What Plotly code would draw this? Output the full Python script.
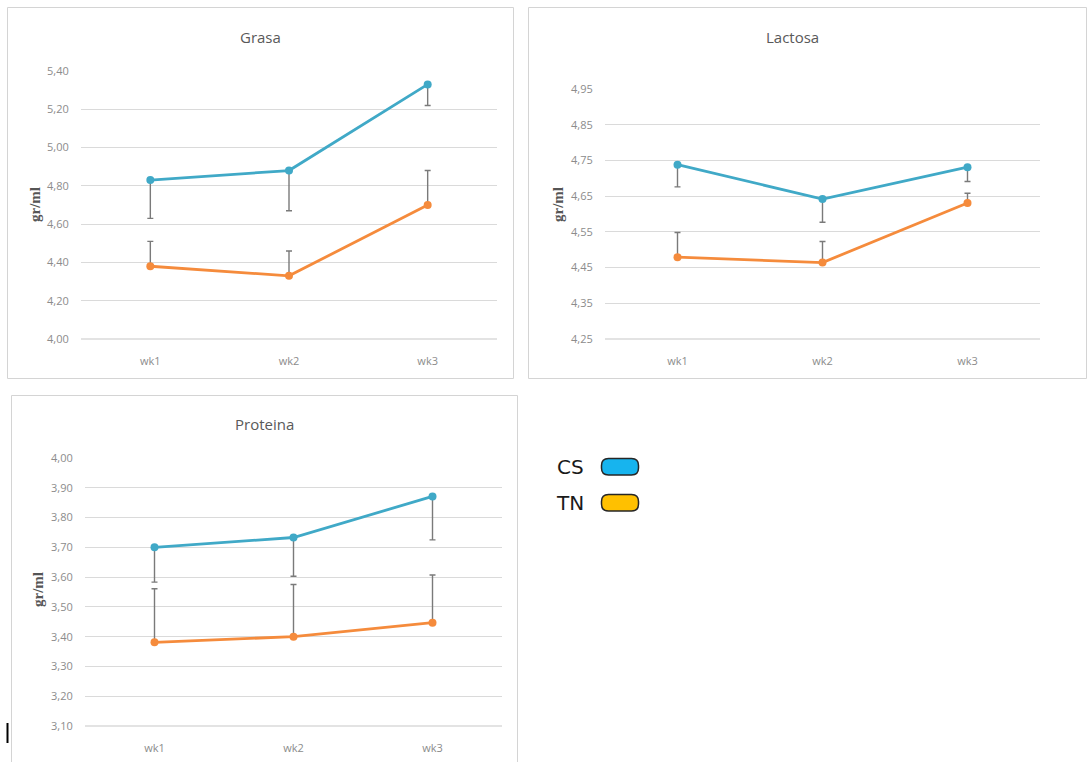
import plotly.graph_objects as go

W, H = 1088, 762

weeks = ["wk1", "wk2", "wk3"]

# Grasa
grasa_cs = [4.83, 4.88, 5.33]
grasa_cs_err = [0.20, 0.21, 0.11]
grasa_tn = [4.38, 4.33, 4.70]
grasa_tn_err = [0.13, 0.13, 0.18]
grasa_ticks = [4.00, 4.20, 4.40, 4.60, 4.80, 5.00, 5.20, 5.40]

# Lactosa
lact_cs = [4.738, 4.642, 4.731]
lact_cs_err = [0.062, 0.065, 0.04]
lact_tn = [4.479, 4.464, 4.631]
lact_tn_err = [0.069, 0.059, 0.027]
lact_ticks = [4.25, 4.35, 4.45, 4.55, 4.65, 4.75, 4.85, 4.95]

# Proteina
prot_cs = [3.70, 3.733, 3.871]
prot_cs_err = [0.117, 0.13, 0.146]
prot_tn = [3.381, 3.40, 3.447]
prot_tn_err = [0.18, 0.175, 0.16]
prot_ticks = [3.10, 3.20, 3.30, 3.40, 3.50, 3.60, 3.70, 3.80, 3.90, 4.00]

CS_COLOR = "#40A9C7"
TN_COLOR = "#F58B3C"
ERR_COLOR = "#7A7A7A"
GRID = "#DADADA"
TICK_FONT = dict(family="Open Sans, sans-serif", size=11, color="#8C8C8C")


def px(x):
    return x / W


def py(y):
    return 1 - y / H


panels = [
    dict(name="Grasa", xd=(81, 497), yd=(71, 339), cs=grasa_cs, cse=grasa_cs_err,
         tn=grasa_tn, tne=grasa_tn_err, ticks=grasa_ticks,
         title=(260, 37), ylab=(35, 205), box=(7.5, 7.5, 513.5, 378.5)),
    dict(name="Lactosa", xd=(605, 1040), yd=(89, 339), cs=lact_cs, cse=lact_cs_err,
         tn=lact_tn, tne=lact_tn_err, ticks=lact_ticks,
         title=(792, 37), ylab=(558, 205), box=(528.5, 7.5, 1086.5, 378.5)),
    dict(name="Proteina", xd=(85, 502), yd=(458, 726), cs=prot_cs, cse=prot_cs_err,
         tn=prot_tn, tne=prot_tn_err, ticks=prot_ticks,
         title=(264, 424), ylab=(38, 590), box=(11.5, 395.5, 517.5, 765)),
]

fig = go.Figure()
shapes = []
annotations = []

for i, p in enumerate(panels):
    k = "" if i == 0 else str(i + 1)
    xa, ya = "x" + k, "y" + k
    fig.add_trace(go.Scatter(
        x=weeks, y=p["cs"], xaxis=xa, yaxis=ya, name="CS", mode="lines+markers",
        line=dict(color=CS_COLOR, width=2.8), marker=dict(color=CS_COLOR, size=8),
        error_y=dict(type="data", symmetric=False, array=[0, 0, 0], arrayminus=p["cse"],
                     color=ERR_COLOR, thickness=1.4, width=3),
        showlegend=False))
    fig.add_trace(go.Scatter(
        x=weeks, y=p["tn"], xaxis=xa, yaxis=ya, name="TN", mode="lines+markers",
        line=dict(color=TN_COLOR, width=2.8), marker=dict(color=TN_COLOR, size=8),
        error_y=dict(type="data", symmetric=False, array=p["tne"], arrayminus=[0, 0, 0],
                     color=ERR_COLOR, thickness=1.4, width=3),
        showlegend=False))
    fig.update_layout(**{
        "xaxis" + k: dict(domain=[px(p["xd"][0]), px(p["xd"][1])], anchor=ya,
                          range=[-0.5, 2.5], showgrid=False, zeroline=False,
                          showline=False, ticks="outside", ticklen=12,
                          tickcolor="rgba(0,0,0,0)", tickfont=TICK_FONT,
                          fixedrange=True, automargin=False),
        "yaxis" + k: dict(domain=[py(p["yd"][1]), py(p["yd"][0])], anchor=xa,
                          range=[p["ticks"][0], p["ticks"][-1]], tickvals=p["ticks"],
                          tickformat=".2f", showgrid=True, gridcolor=GRID, gridwidth=1.3,
                          zeroline=False, showline=False, ticks="outside", ticklen=9,
                          tickcolor="rgba(0,0,0,0)", tickfont=TICK_FONT,
                          fixedrange=True, automargin=False),
    })
    shapes.append(dict(type="line", xref="paper", yref="paper",
                       x0=px(p["xd"][0]), x1=px(p["xd"][1]),
                       y0=py(p["yd"][1]), y1=py(p["yd"][1]),
                       line=dict(color=GRID, width=1.3), layer="below"))
    bx0, by0, bx1, by1 = p["box"]
    shapes.append(dict(type="rect", xref="paper", yref="paper",
                       x0=px(bx0), x1=px(bx1), y0=py(by1), y1=py(by0),
                       line=dict(color="#D4D4D4", width=1), layer="below"))
    annotations.append(dict(text=p["name"], x=px(p["title"][0]), y=py(p["title"][1]),
                            xref="paper", yref="paper", showarrow=False,
                            xanchor="center", yanchor="middle",
                            font=dict(family="Open Sans, sans-serif", size=15,
                                      color="#595959")))
    annotations.append(dict(text="<b>gr/ml</b>", x=px(p["ylab"][0]), y=py(p["ylab"][1]),
                            xref="paper", yref="paper", showarrow=False, textangle=-90,
                            xanchor="center", yanchor="middle",
                            font=dict(family="Liberation Serif, serif", size=15,
                                      color="#555555")))


def rounded_rect(x0, y0, x1, y1, r):
    def P(x, y):
        return f"{px(x):.5f},{py(y):.5f}"
    return (f"M {P(x0 + r, y0)} L {P(x1 - r, y0)} Q {P(x1, y0)} {P(x1, y0 + r)} "
            f"L {P(x1, y1 - r)} Q {P(x1, y1)} {P(x1 - r, y1)} "
            f"L {P(x0 + r, y1)} Q {P(x0, y1)} {P(x0, y1 - r)} "
            f"L {P(x0, y0 + r)} Q {P(x0, y0)} {P(x0 + r, y0)} Z")


legend_items = [("CS", "#17B4EE", 458.5, 475), ("TN", "#FFC000", 494.5, 511)]
for label, col, y0, y1 in legend_items:
    shapes.append(dict(type="path", xref="paper", yref="paper",
                       path=rounded_rect(601.5, y0, 638.5, y1, 7),
                       fillcolor=col, line=dict(color="#262626", width=1.5)))
    annotations.append(dict(text=label, x=px(586), y=py((y0 + y1) / 2),
                            xref="paper", yref="paper", showarrow=False,
                            xanchor="right", yanchor="middle",
                            font=dict(family="DejaVu Sans, sans-serif", size=20,
                                      color="#1A1A1A")))

shapes.append(dict(type="line", xref="paper", yref="paper",
                   x0=px(7.5), x1=px(7.5), y0=py(743), y1=py(723),
                   line=dict(color="#000000", width=2)))

fig.update_layout(
    width=W, height=H, autosize=False,
    margin=dict(l=0, r=0, t=0, b=0, pad=0),
    paper_bgcolor="white", plot_bgcolor="white",
    separators=",.",
    shapes=shapes, annotations=annotations,
    showlegend=False,
)

fig.write_html("out.html", config={"displayModeBar": False})

# remove default page margins so the figure sits at the top-left corner
with open("out.html", "r", encoding="utf-8") as f:
    html = f.read()
html = html.replace("<head>", "<head><style>html,body{margin:0;padding:0;overflow:hidden}</style>", 1)
with open("out.html", "w", encoding="utf-8") as f:
    f.write(html)
